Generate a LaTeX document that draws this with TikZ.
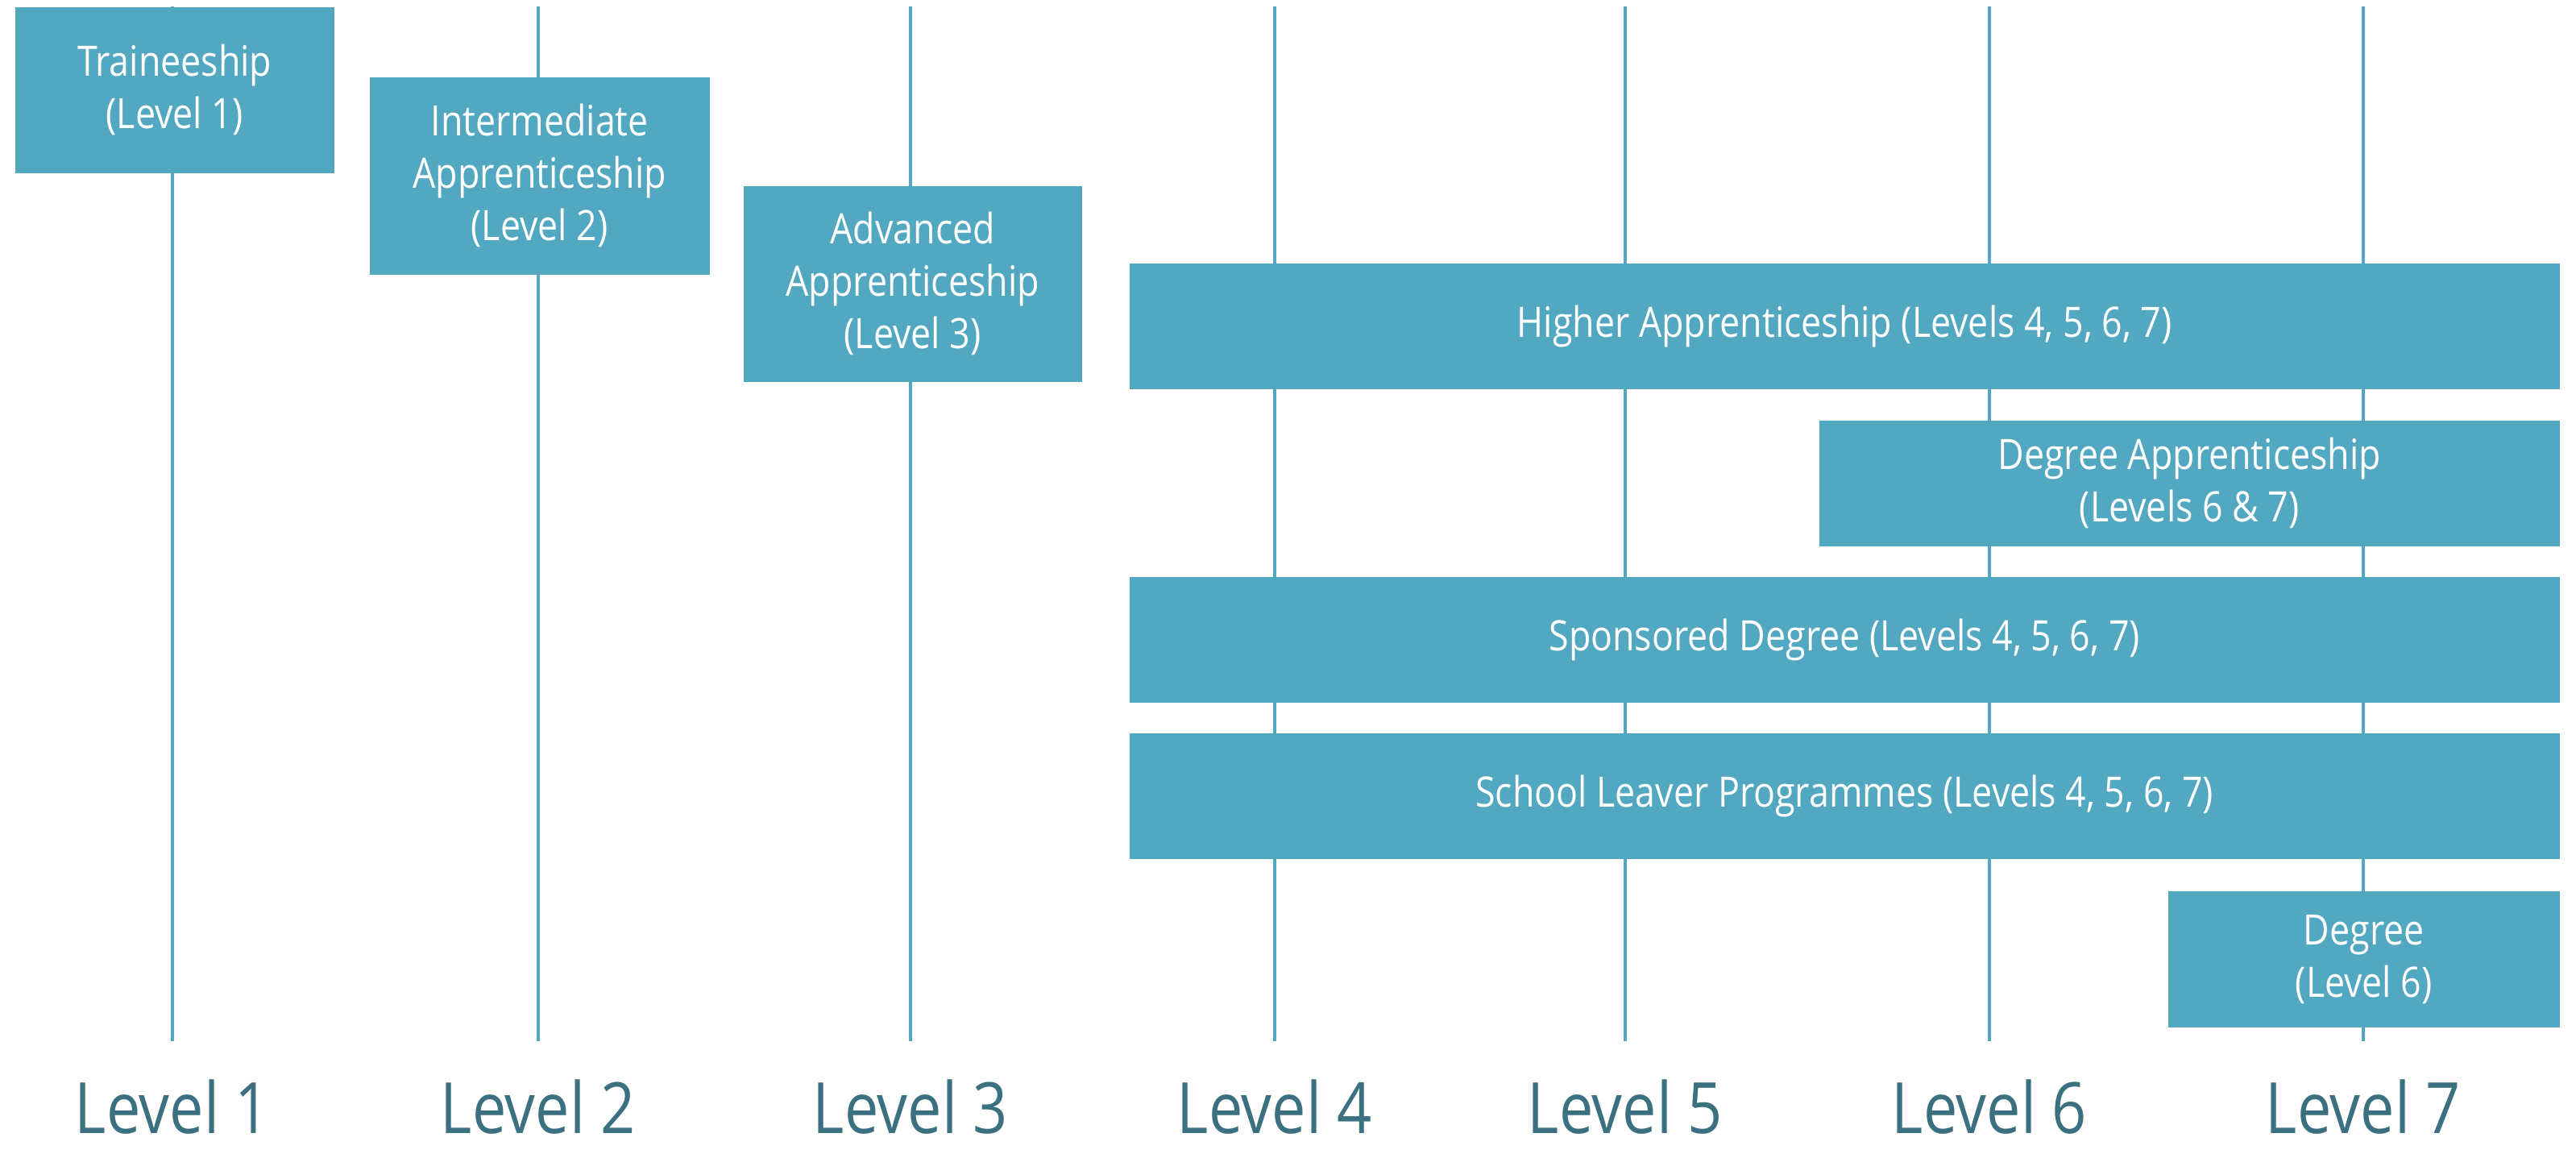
\documentclass[tikz,border=0pt]{standalone}
\usepackage{fontspec}
\setmainfont{Open Sans}[FakeStretch=0.86]
\usepackage{xcolor}
\usepackage{tikz}
\usetikzlibrary{positioning}

\definecolor{progblue}{HTML}{52A7C1}
\definecolor{levelteal}{HTML}{3A7080}

\begin{document}
\begin{tikzpicture}[
    prog/.style={rectangle, fill=progblue, text=white, align=center, inner sep=0pt,
      anchor=north west, font=\fontsize{14.8}{18.5}\selectfont},
    levline/.style={progblue, line width=1.1pt},
    levlabel/.style={anchor=base, inner sep=0pt, text=levelteal, font=\fontsize{25}{28}\selectfont}
  ]
      \useasboundingbox (0,0) rectangle (31.97,-14.32);
      % level axes
      \coordinate (t1) at (2.14,-0.08);   \coordinate (b1) at (2.14,-12.92);
      \coordinate (t2) at (6.68,-0.08);   \coordinate (b2) at (6.68,-12.92);
      \coordinate (t3) at (11.30,-0.08);  \coordinate (b3) at (11.30,-12.92);
      \coordinate (t4) at (15.82,-0.08);  \coordinate (b4) at (15.82,-12.92);
      \coordinate (t5) at (20.17,-0.08);  \coordinate (b5) at (20.17,-12.92);
      \coordinate (t6) at (24.69,-0.08);  \coordinate (b6) at (24.69,-12.92);
      \coordinate (t7) at (29.33,-0.08);  \coordinate (b7) at (29.33,-12.92);
      \draw[levline] (t1) -- (b1);
      \draw[levline] (t2) -- (b2);
      \draw[levline] (t3) -- (b3);
      \draw[levline] (t4) -- (b4);
      \draw[levline] (t5) -- (b5);
      \draw[levline] (t6) -- (b6);
      \draw[levline] (t7) -- (b7);
      \node[levlabel] (lev1) at (2.14,-14.06) {Level 1};
      \node[levlabel] (lev2) at (6.68,-14.06) {Level 2};
      \node[levlabel] (lev3) at (11.30,-14.06) {Level 3};
      \node[levlabel] (lev4) at (15.82,-14.06) {Level 4};
      \node[levlabel] (lev5) at (20.17,-14.06) {Level 5};
      \node[levlabel] (lev6) at (24.69,-14.06) {Level 6};
      \node[levlabel] (lev7) at (29.33,-14.06) {Level 7};
      % programmes
      \node[prog, minimum width=3.96cm, minimum height=2.06cm] (trainee) at (0.18,-0.08)
        {Traineeship\\(Level 1)};
      \node[prog, minimum width=4.22cm, minimum height=2.45cm] (inter) at (4.58,-0.95)
        {Intermediate\\Apprenticeship\\(Level 2)};
      \node[prog, minimum width=4.20cm, minimum height=2.43cm] (adv) at (9.22,-2.30)
        {Advanced\\Apprenticeship\\(Level 3)};
      \node[prog, minimum width=17.75cm, minimum height=1.56cm] (higher) at (14.01,-3.26)
        {Higher Apprenticeship (Levels 4, 5, 6, 7)};
      \node[prog, minimum width=9.19cm, minimum height=1.56cm] (degapp) at (22.57,-5.21)
        {Degree Apprenticeship\\(Levels 6 \& 7)};
      \node[prog, minimum width=17.75cm, minimum height=1.56cm] (sponsor) at (14.01,-7.15)
        {Sponsored Degree (Levels 4, 5, 6, 7)};
      \node[prog, minimum width=17.75cm, minimum height=1.56cm] (leaver) at (14.01,-9.09)
        {School Leaver Programmes (Levels 4, 5, 6, 7)};
      \node[prog, minimum width=4.86cm, minimum height=1.69cm] (degree) at (26.90,-11.05)
        {Degree\\(Level 6)};
    \end{tikzpicture}
\end{document}
